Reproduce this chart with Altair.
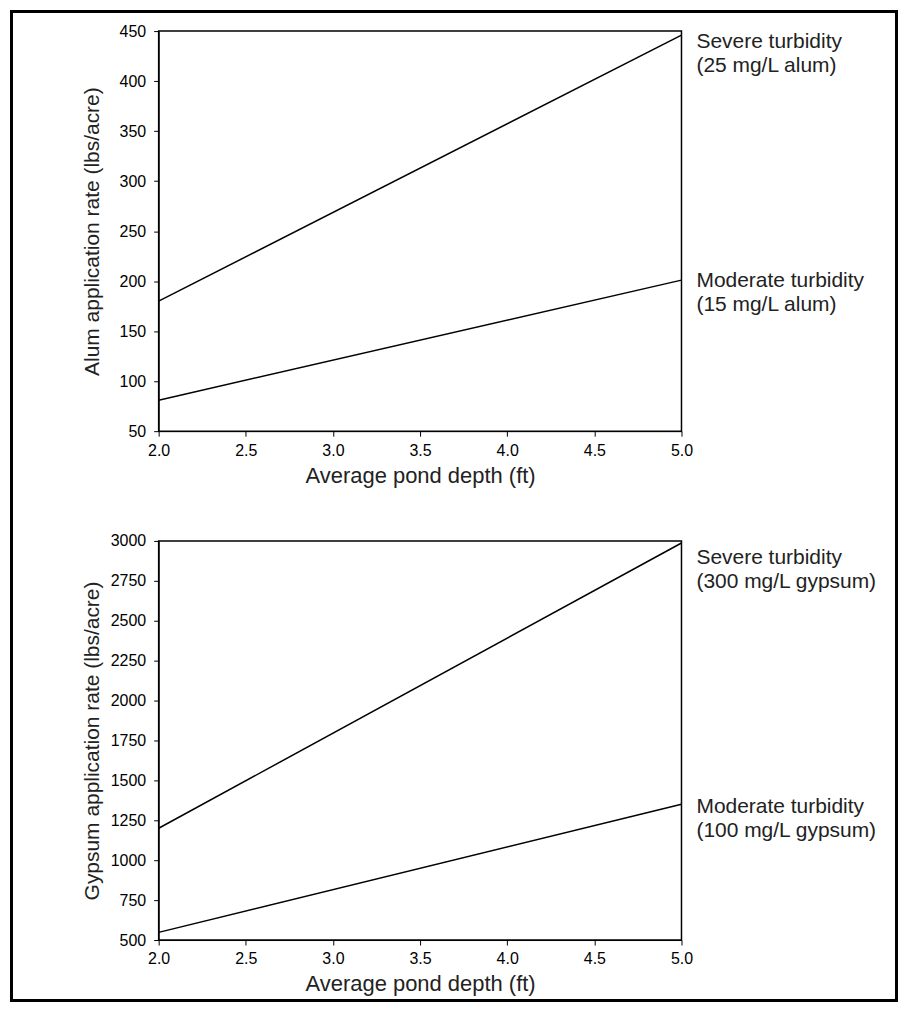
import altair as alt
import pandas as pd

depth = [2.0, 5.0]
alum_severe = [180, 446]
alum_moderate = [81, 201]
gypsum_severe = [1200, 2987]
gypsum_moderate = [548, 1350]

alum_labels = ["Severe turbidity\n(25 mg/L alum)", "Moderate turbidity\n(15 mg/L alum)"]
alum_label_y = [439, 200]
gypsum_labels = ["Severe turbidity\n(300 mg/L gypsum)", "Moderate turbidity\n(100 mg/L gypsum)"]
gypsum_label_y = [2894, 1331]

x_ticks = [2.0, 2.5, 3.0, 3.5, 4.0, 4.5, 5.0]
alum_ticks = [50, 100, 150, 200, 250, 300, 350, 400, 450]
gypsum_ticks = [500, 750, 1000, 1250, 1500, 1750, 2000, 2250, 2500, 2750, 3000]

FONT = "Liberation Sans"
W = 524


def panel(sev, mod, labels, label_y, ydomain, yticks, ytitle, H, border=False):
    df = pd.DataFrame({
        "depth": depth * 2,
        "rate": sev + mod,
        "series": ["severe"] * 2 + ["moderate"] * 2,
    })
    xax = alt.X("depth:Q", scale=alt.Scale(domain=[2, 5], nice=False, zero=False),
                axis=alt.Axis(values=x_ticks, format=".1f", title="Average pond depth (ft)",
                              grid=False, tickSize=5, labelPadding=6, labelFontSize=16,
                              labelFlush=False, labelColor="#000", titleFontSize=22,
                              titleFontWeight="normal", titleColor="#222", titleY=34,
                              domainColor="#000", tickColor="#000", labelFont=FONT,
                              titleFont=FONT))
    yax = alt.Y("rate:Q", scale=alt.Scale(domain=ydomain, nice=False, zero=False),
                axis=alt.Axis(values=yticks, format="d", title=ytitle, grid=False, tickSize=5,
                              labelPadding=8, labelFontSize=16, labelColor="#000",
                              labelFlush=False,
                              titleFontSize=21, titleFontWeight="normal", titleColor="#222",
                              titleX=-56, titleY=H / 2, titleAngle=-90, titleBaseline="bottom",
                              titleAlign="center",
                              domainColor="#000", tickColor="#000", labelFont=FONT, titleFont=FONT))
    lines = alt.Chart(df).mark_line(color="#000", strokeWidth=1.5).encode(
        x=xax, y=yax, detail="series:N")
    ldf = pd.DataFrame({"depth": [5.0, 5.0], "rate": label_y, "label": labels})
    text = alt.Chart(ldf).mark_text(align="left", baseline="middle", dx=15, fontSize=21,
                                    lineBreak="\n", lineHeight=24, font=FONT,
                                    color="#222").encode(
        x=xax, y=yax, text="label:N")
    layers = [lines, text]
    if border:
        bdf = pd.DataFrame({"a": [0]})
        rect = alt.Chart(bdf).mark_rect(filled=False, stroke="#000", strokeWidth=3).encode(
            x=alt.value(-147.5), x2=alt.value(739.5), y=alt.value(-19.5), y2=alt.value(971.5))
        layers = layers + [rect]
    return alt.layer(*layers).properties(width=W, height=H)


top = panel(alum_severe, alum_moderate, alum_labels, alum_label_y, [50, 450], alum_ticks,
            "Alum application rate (lbs/acre)", 401, border=True)
bottom = panel(gypsum_severe, gypsum_moderate, gypsum_labels, gypsum_label_y, [500, 3000],
               gypsum_ticks, "Gypsum application rate (lbs/acre)", 400)

chart = alt.vconcat(top, bottom, spacing=110, bounds="flush").properties(
    padding={"left": 1, "top": 0, "right": 0, "bottom": 0},
    background="white",
).configure_view(stroke="#000", strokeWidth=1.5)

chart.save("out.html", embed_options={"renderer": "svg", "actions": False})
